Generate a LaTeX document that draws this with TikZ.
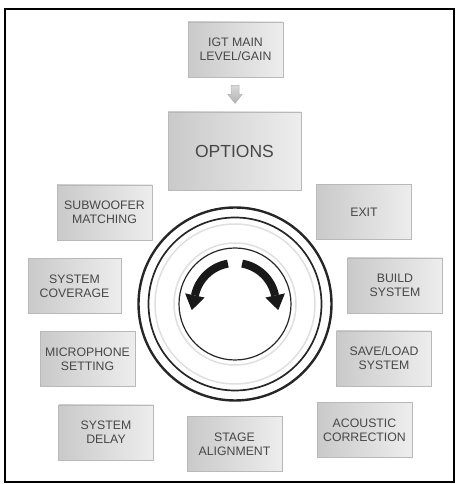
\documentclass[tikz,border=0pt]{standalone}
\usepackage{fontspec}
\setmainfont{Liberation Sans}
\usetikzlibrary{calc}
\begin{document}
\begin{tikzpicture}[x=1pt,y=1pt,
  menubox/.style={draw=gray!55, line width=0.8pt, left color=gray!42, middle color=white, right color=gray!14,
    minimum width=95pt, minimum height=55pt, inner sep=0pt, align=center,
    font=\fontsize{12.3}{14}\selectfont, text=black!72},
  ring/.style={draw=black!85},
  turnline/.style={line width=8pt, black!90},
  turnhead/.style={fill=black!90}]
\useasboundingbox (0,0) rectangle (456,484);
\draw[line width=2pt] (5,2) rectangle (454,475);
% boxes
\node[menubox] (igt) at (235.5,434.5) {IGT MAIN\\LEVEL/GAIN};
\node[menubox, minimum width=133pt, minimum height=78pt, font=\fontsize{17.5}{20}\selectfont] (opt) at (234.5,333) {OPTIONS};
\node[menubox] (sub) at (104.5,271.5) {SUBWOOFER\\MATCHING};
\node[menubox] (exit) at (364,272) {EXIT};
\node[menubox, minimum width=93pt] (cov) at (74.5,198) {SYSTEM\\COVERAGE};
\node[menubox] (build) at (395,198.5) {BUILD\\SYSTEM};
\node[menubox] (mic) at (87.5,125) {MICROPHONE\\SETTING};
\node[menubox] (save) at (384,125.5) {SAVE/LOAD\\SYSTEM};
\node[menubox] (delay) at (106,51.5) {SYSTEM\\DELAY};
\node[menubox] (stage) at (234.5,40) {STAGE\\ALIGNMENT};
\node[menubox] (acou) at (364.5,54) {ACOUSTIC\\CORRECTION};
% block arrow between igt and options
\coordinate (dm) at ($(igt.south)!0.5!(opt.north)$);
\draw[draw=gray!60, top color=gray!30, bottom color=gray!60, line width=0.5pt]
  ($(dm)+(-4,9)$) -- ($(dm)+(4,9)$) -- ($(dm)+(4,0)$) -- ($(dm)+(7,0)$) -- ($(dm)+(0,-9)$)
  -- ($(dm)+(-7,0)$) -- ($(dm)+(-4,0)$) -- cycle;
% rotary control
\coordinate (c) at (235,180);
\draw[ring, line width=2.4pt] (c) circle (96.5);
\draw[ring, line width=1.7pt] (c) circle (86.5);
\draw[gray!25, line width=1.5pt] (c) circle (80);
\draw[gray!25, line width=1.5pt] (c) circle (61);
\draw[ring, line width=1.2pt] (c) circle (56);
% rotation arrows
\draw[turnline] ($(c)+(100:41)$) arc[start angle=100, end angle=168, radius=41];
\fill[turnhead] ($(c)+(168:51)$) -- ($(c)+(168:41)+(258:15)$) -- ($(c)+(168:31)$) -- cycle;
\draw[turnline] ($(c)+(80:41)$) arc[start angle=80, end angle=12, radius=41];
\fill[turnhead] ($(c)+(12:51)$) -- ($(c)+(12:41)+(-78:15)$) -- ($(c)+(12:31)$) -- cycle;
\end{tikzpicture}
\end{document}
